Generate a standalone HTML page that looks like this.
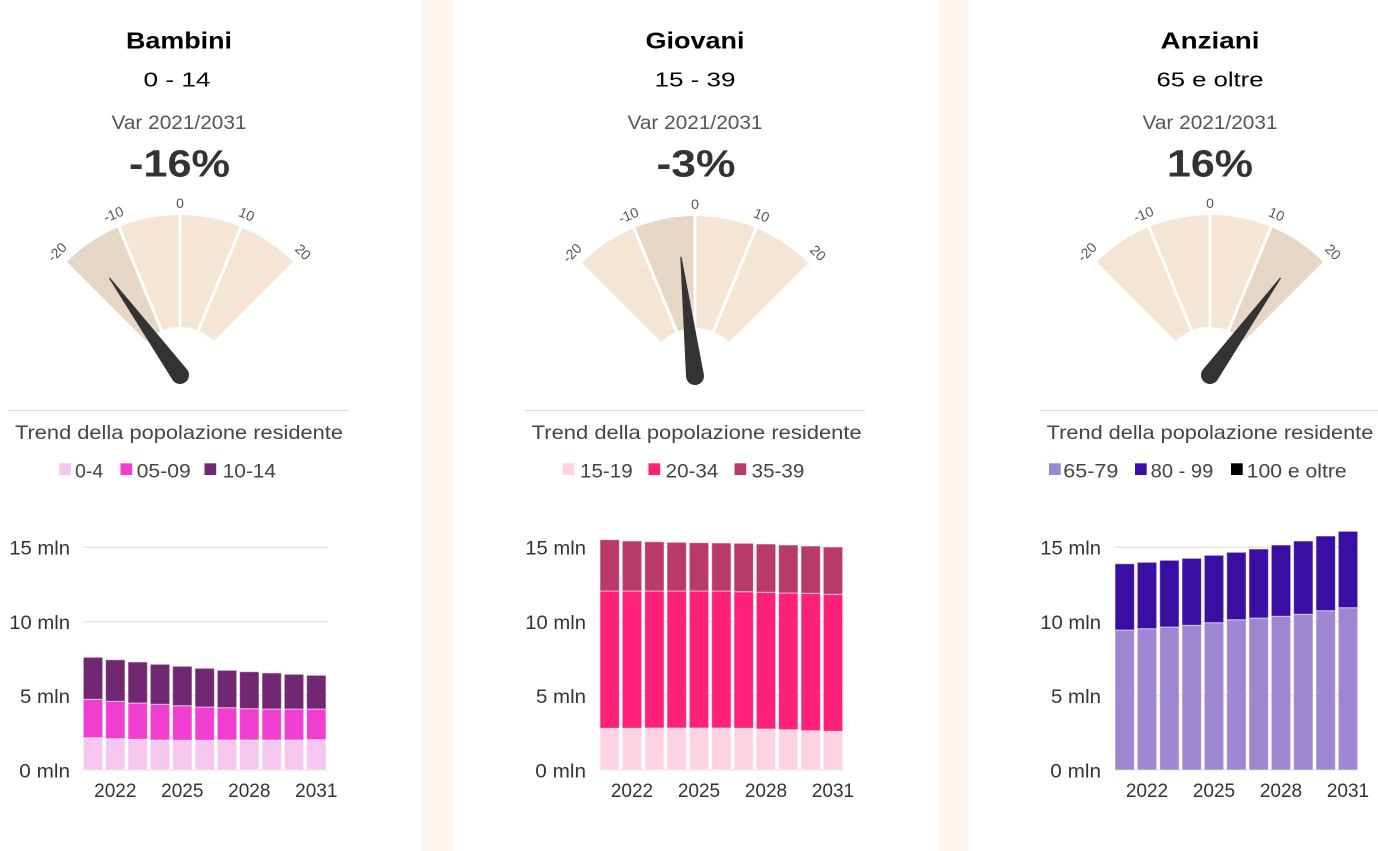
<!DOCTYPE html>
<html><head><meta charset="utf-8"><style>
html,body{margin:0;padding:0;background:#fff;}
svg{display:block;font-family:"Liberation Sans",Arial,sans-serif;}
</style></head><body>
<svg width="1378" height="851" viewBox="0 0 1378 851" xmlns="http://www.w3.org/2000/svg">
<rect x="0" y="0" width="1378" height="851" fill="#fff"/>
<rect x="422" y="0" width="31" height="851" fill="#fff6ef"/>
<rect x="937" y="0" width="31" height="851" fill="#fff6ef"/>

<!-- headers -->
<g text-anchor="middle">
<text x="179" y="48.3" font-size="23.5" font-weight="bold" fill="#000" textLength="106" lengthAdjust="spacingAndGlyphs">Bambini</text>
<text x="177" y="86.7" font-size="20.5" fill="#000" textLength="67" lengthAdjust="spacingAndGlyphs">0 - 14</text>
<text x="179" y="129" font-size="19" fill="#555" textLength="135" lengthAdjust="spacingAndGlyphs">Var 2021/2031</text>
<text x="179.5" y="176.7" font-size="38" font-weight="bold" fill="#333" textLength="101" lengthAdjust="spacingAndGlyphs">-16%</text>

<text x="695" y="48.3" font-size="23.5" font-weight="bold" fill="#000" textLength="99" lengthAdjust="spacingAndGlyphs">Giovani</text>
<text x="695" y="86.7" font-size="20.5" fill="#000" textLength="81" lengthAdjust="spacingAndGlyphs">15 - 39</text>
<text x="695" y="129" font-size="19" fill="#555" textLength="135" lengthAdjust="spacingAndGlyphs">Var 2021/2031</text>
<text x="696" y="176.7" font-size="38" font-weight="bold" fill="#333" textLength="79" lengthAdjust="spacingAndGlyphs">-3%</text>

<text x="1210" y="48.3" font-size="23.5" font-weight="bold" fill="#000" textLength="99" lengthAdjust="spacingAndGlyphs">Anziani</text>
<text x="1210" y="86.7" font-size="20.5" fill="#000" textLength="107" lengthAdjust="spacingAndGlyphs">65 e oltre</text>
<text x="1210" y="129" font-size="19" fill="#555" textLength="135" lengthAdjust="spacingAndGlyphs">Var 2021/2031</text>
<text x="1210" y="176.7" font-size="38" font-weight="bold" fill="#333" textLength="86" lengthAdjust="spacingAndGlyphs">16%</text>
</g>

<!-- gauges -->
<defs>
<path id="s1" d="M -113.14 -113.14 A 160 160 0 0 1 -61.23 -147.82 L -18.37 -44.35 A 48 48 0 0 0 -33.94 -33.94 Z"/>
<path id="s2" d="M -61.23 -147.82 A 160 160 0 0 1 0 -160 L 0 -48 A 48 48 0 0 0 -18.37 -44.35 Z"/>
<path id="s3" d="M 0 -160 A 160 160 0 0 1 61.23 -147.82 L 18.37 -44.35 A 48 48 0 0 0 0 -48 Z"/>
<path id="s4" d="M 61.23 -147.82 A 160 160 0 0 1 113.14 -113.14 L 33.94 -33.94 A 48 48 0 0 0 18.37 -44.35 Z"/>
<g id="seps" stroke="#fff" stroke-width="3">
<line x1="-16.5" y1="-40" x2="-64" y2="-155"/>
<line x1="0" y1="-42" x2="0" y2="-166"/>
<line x1="16.5" y1="-40" x2="64" y2="-155"/>
</g>
<g id="ticks" font-size="14" fill="#555" text-anchor="middle">
<text transform="rotate(-45)" x="0" y="-174" dy="0.35em">-20</text>
<text transform="rotate(-22.5)" x="0" y="-174" dy="0.35em">-10</text>
<text transform="rotate(0)" x="0" y="-172" dy="0.35em">0</text>
<text transform="rotate(22.5)" x="0" y="-174" dy="0.35em">10</text>
<text transform="rotate(45)" x="0" y="-174" dy="0.35em">20</text>
</g>
<path id="needle" d="M -9 0 L -0.6 -120 L 0.6 -120 L 9 0 A 9 9 0 0 1 -9 0 Z" fill="#333"/>
</defs>

<g transform="translate(180,375)">
<use href="#s1" fill="#e5d6c6"/><use href="#s2" fill="#f5e5d5"/><use href="#s3" fill="#f5e5d5"/><use href="#s4" fill="#f5e5d5"/>
<use href="#seps"/><use href="#ticks"/>
<g transform="rotate(-36)"><use href="#needle"/></g>
</g>
<g transform="translate(695,376)">
<use href="#s1" fill="#f5e5d5"/><use href="#s2" fill="#e5d6c6"/><use href="#s3" fill="#f5e5d5"/><use href="#s4" fill="#f5e5d5"/>
<use href="#seps"/><use href="#ticks"/>
<g transform="rotate(-6.75)"><use href="#needle"/></g>
</g>
<g transform="translate(1210,375)">
<use href="#s1" fill="#f5e5d5"/><use href="#s2" fill="#f5e5d5"/><use href="#s3" fill="#f5e5d5"/><use href="#s4" fill="#e5d6c6"/>
<use href="#seps"/><use href="#ticks"/>
<g transform="rotate(36)"><use href="#needle"/></g>
</g>

<!-- rules -->
<g stroke="#dcdcdc" stroke-width="1">
<line x1="8" y1="410.5" x2="349" y2="410.5"/>
<line x1="525" y1="410.5" x2="865" y2="410.5"/>
<line x1="1040" y1="410.5" x2="1378" y2="410.5"/>
</g>

<!-- trend titles -->
<g font-size="19.5" fill="#444">
<text x="15" y="439" textLength="328" lengthAdjust="spacingAndGlyphs">Trend della popolazione residente</text>
<text x="531.7" y="439" textLength="330" lengthAdjust="spacingAndGlyphs">Trend della popolazione residente</text>
<text x="1046.7" y="439" textLength="326.6" lengthAdjust="spacingAndGlyphs">Trend della popolazione residente</text>
</g>

<!-- legends -->
<g font-size="19.5" fill="#444">
<rect x="59.3" y="463.3" width="11.7" height="11.7" fill="#f5c6f0"/>
<text x="75" y="477.3" textLength="28.3" lengthAdjust="spacingAndGlyphs">0-4</text>
<rect x="120.5" y="463.3" width="11.7" height="11.7" fill="#f03ed0"/>
<text x="136.7" y="477.3" textLength="54" lengthAdjust="spacingAndGlyphs">05-09</text>
<rect x="204.5" y="463.3" width="11.7" height="11.7" fill="#722772"/>
<text x="222.7" y="477.3" textLength="53.3" lengthAdjust="spacingAndGlyphs">10-14</text>

<rect x="562.7" y="463.3" width="11.7" height="11.7" fill="#fdd3e3"/>
<text x="580" y="477.3" textLength="52.7" lengthAdjust="spacingAndGlyphs">15-19</text>
<rect x="648.5" y="463.3" width="11.7" height="11.7" fill="#ff2178"/>
<text x="665.7" y="477.3" textLength="52.6" lengthAdjust="spacingAndGlyphs">20-34</text>
<rect x="734.5" y="463.3" width="11.7" height="11.7" fill="#b93a6a"/>
<text x="751.7" y="477.3" textLength="52.6" lengthAdjust="spacingAndGlyphs">35-39</text>

<rect x="1049" y="463.3" width="11.7" height="11.7" fill="#9c87d0"/>
<text x="1063.3" y="477.3" textLength="55" lengthAdjust="spacingAndGlyphs">65-79</text>
<rect x="1135" y="463.3" width="11.7" height="11.7" fill="#3a0da3"/>
<text x="1150.7" y="477.3" textLength="62.6" lengthAdjust="spacingAndGlyphs">80 - 99</text>
<rect x="1231" y="463.3" width="11.7" height="11.7" fill="#000"/>
<text x="1246.7" y="477.3" textLength="100" lengthAdjust="spacingAndGlyphs">100 e oltre</text>
</g>

<!-- gridlines -->
<g stroke="#e6e6e6" stroke-width="1.5">
<line x1="82.7" y1="547.3" x2="328.3" y2="547.3"/><line x1="82.7" y1="621.7" x2="328.3" y2="621.7"/><line x1="82.7" y1="695.7" x2="328.3" y2="695.7"/><line x1="82.7" y1="770" x2="328.3" y2="770"/>
<line x1="599.3" y1="547.3" x2="843.3" y2="547.3"/><line x1="599.3" y1="621.7" x2="843.3" y2="621.7"/><line x1="599.3" y1="695.7" x2="843.3" y2="695.7"/><line x1="599.3" y1="770" x2="843.3" y2="770"/>
<line x1="1114.3" y1="547.3" x2="1358.3" y2="547.3"/><line x1="1114.3" y1="621.7" x2="1358.3" y2="621.7"/><line x1="1114.3" y1="695.7" x2="1358.3" y2="695.7"/><line x1="1114.3" y1="770" x2="1358.3" y2="770"/>
</g>

<!-- y axis labels -->
<g font-size="19" fill="#333" text-anchor="end">
<text x="70" y="554.6" textLength="60.7" lengthAdjust="spacingAndGlyphs">15 mln</text>
<text x="70" y="629" textLength="60.7" lengthAdjust="spacingAndGlyphs">10 mln</text>
<text x="70" y="703" textLength="50" lengthAdjust="spacingAndGlyphs">5 mln</text>
<text x="70" y="777.3" textLength="50.7" lengthAdjust="spacingAndGlyphs">0 mln</text>
<text x="586" y="554.6" textLength="60.7" lengthAdjust="spacingAndGlyphs">15 mln</text>
<text x="586" y="629" textLength="60.7" lengthAdjust="spacingAndGlyphs">10 mln</text>
<text x="586" y="703" textLength="50" lengthAdjust="spacingAndGlyphs">5 mln</text>
<text x="586" y="777.3" textLength="50.7" lengthAdjust="spacingAndGlyphs">0 mln</text>
<text x="1101" y="554.6" textLength="60.7" lengthAdjust="spacingAndGlyphs">15 mln</text>
<text x="1101" y="629" textLength="60.7" lengthAdjust="spacingAndGlyphs">10 mln</text>
<text x="1101" y="703" textLength="50" lengthAdjust="spacingAndGlyphs">5 mln</text>
<text x="1101" y="777.3" textLength="50.7" lengthAdjust="spacingAndGlyphs">0 mln</text>
</g>

<!-- x axis labels -->
<g font-size="19" fill="#333" text-anchor="middle">
<text x="115.3" y="797">2022</text><text x="182.3" y="797">2025</text><text x="249.3" y="797">2028</text><text x="316.3" y="797">2031</text>
<text x="632" y="797">2022</text><text x="699" y="797">2025</text><text x="766" y="797">2028</text><text x="833" y="797">2031</text>
<text x="1147" y="797">2022</text><text x="1214" y="797">2025</text><text x="1281" y="797">2028</text><text x="1348" y="797">2031</text>
</g>

<!-- bars panel 1 -->
<g stroke="#fff" stroke-opacity="0.55" stroke-width="1">
<g fill="#f5c6f0">
<rect x="83.3" y="737.7" width="19.4" height="32.3"/>
<rect x="105.6" y="738.7" width="19.4" height="31.3"/>
<rect x="128.0" y="739.3" width="19.4" height="30.7"/>
<rect x="150.3" y="740" width="19.4" height="30"/>
<rect x="172.6" y="740.3" width="19.4" height="29.7"/>
<rect x="195.0" y="740.3" width="19.4" height="29.7"/>
<rect x="217.3" y="740" width="19.4" height="30"/>
<rect x="239.6" y="740" width="19.4" height="30"/>
<rect x="262.0" y="740" width="19.4" height="30"/>
<rect x="284.3" y="740" width="19.4" height="30"/>
<rect x="306.6" y="739.7" width="19.4" height="30.3"/>
</g>
<g fill="#f03ed0">
<rect x="83.3" y="699.3" width="19.4" height="38.4"/>
<rect x="105.6" y="701.3" width="19.4" height="37.4"/>
<rect x="128.0" y="703" width="19.4" height="36.3"/>
<rect x="150.3" y="704.3" width="19.4" height="35.7"/>
<rect x="172.6" y="705.7" width="19.4" height="34.6"/>
<rect x="195.0" y="707" width="19.4" height="33.3"/>
<rect x="217.3" y="707.7" width="19.4" height="32.3"/>
<rect x="239.6" y="708.7" width="19.4" height="31.3"/>
<rect x="262.0" y="709" width="19.4" height="31"/>
<rect x="284.3" y="709" width="19.4" height="31"/>
<rect x="306.6" y="709" width="19.4" height="30.7"/>
</g>
<g fill="#722772">
<rect x="83.3" y="657.3" width="19.4" height="42"/>
<rect x="105.6" y="659.7" width="19.4" height="41.6"/>
<rect x="128.0" y="662" width="19.4" height="41"/>
<rect x="150.3" y="664.3" width="19.4" height="40"/>
<rect x="172.6" y="666.3" width="19.4" height="39.4"/>
<rect x="195.0" y="668.3" width="19.4" height="38.7"/>
<rect x="217.3" y="670.3" width="19.4" height="37.4"/>
<rect x="239.6" y="671.7" width="19.4" height="37"/>
<rect x="262.0" y="673" width="19.4" height="36"/>
<rect x="284.3" y="674.3" width="19.4" height="34.7"/>
<rect x="306.6" y="675.3" width="19.4" height="33.7"/>
</g>

<!-- bars panel 2 -->
<g fill="#fdd3e3">
<rect x="600" y="728.3" width="19.4" height="41.7"/>
<rect x="622.3" y="728.3" width="19.4" height="41.7"/>
<rect x="644.7" y="728" width="19.4" height="42"/>
<rect x="667.0" y="728" width="19.4" height="42"/>
<rect x="689.3" y="728" width="19.4" height="42"/>
<rect x="711.7" y="728" width="19.4" height="42"/>
<rect x="734.0" y="728.3" width="19.4" height="41.7"/>
<rect x="756.3" y="729" width="19.4" height="41"/>
<rect x="778.6" y="729.7" width="19.4" height="40.3"/>
<rect x="801.0" y="730.7" width="19.4" height="39.3"/>
<rect x="823.3" y="731.3" width="19.4" height="38.7"/>
</g>
<g fill="#ff2178">
<rect x="600" y="591" width="19.4" height="137.3"/>
<rect x="622.3" y="591" width="19.4" height="137.3"/>
<rect x="644.7" y="591" width="19.4" height="137"/>
<rect x="667.0" y="591" width="19.4" height="137"/>
<rect x="689.3" y="591" width="19.4" height="137"/>
<rect x="711.7" y="591" width="19.4" height="137"/>
<rect x="734.0" y="591.7" width="19.4" height="136.6"/>
<rect x="756.3" y="592.3" width="19.4" height="136.7"/>
<rect x="778.6" y="593" width="19.4" height="136.7"/>
<rect x="801.0" y="593.3" width="19.4" height="137.4"/>
<rect x="823.3" y="594.3" width="19.4" height="137"/>
</g>
<g fill="#b93a6a">
<rect x="600" y="539.7" width="19.4" height="51.3"/>
<rect x="622.3" y="541" width="19.4" height="50"/>
<rect x="644.7" y="541.7" width="19.4" height="49.3"/>
<rect x="667.0" y="542.3" width="19.4" height="48.7"/>
<rect x="689.3" y="542.7" width="19.4" height="48.3"/>
<rect x="711.7" y="543" width="19.4" height="48"/>
<rect x="734.0" y="543.3" width="19.4" height="48.4"/>
<rect x="756.3" y="544" width="19.4" height="48.3"/>
<rect x="778.6" y="545" width="19.4" height="48"/>
<rect x="801.0" y="546" width="19.4" height="47.3"/>
<rect x="823.3" y="547" width="19.4" height="47.3"/>
</g>

<!-- bars panel 3 -->
<g fill="#9c87d0">
<rect x="1115" y="630" width="19.4" height="140"/>
<rect x="1137.3" y="628.7" width="19.4" height="141.3"/>
<rect x="1159.7" y="627" width="19.4" height="143"/>
<rect x="1182.0" y="625.3" width="19.4" height="144.7"/>
<rect x="1204.3" y="622.7" width="19.4" height="147.3"/>
<rect x="1226.7" y="619.7" width="19.4" height="150.3"/>
<rect x="1249.0" y="618" width="19.4" height="152"/>
<rect x="1271.3" y="616.3" width="19.4" height="153.7"/>
<rect x="1293.6" y="614.3" width="19.4" height="155.7"/>
<rect x="1316.0" y="610.7" width="19.4" height="159.3"/>
<rect x="1338.3" y="607.7" width="19.4" height="162.3"/>
</g>
<g fill="#3a0da3">
<rect x="1115" y="563.7" width="19.4" height="66.3"/>
<rect x="1137.3" y="562.3" width="19.4" height="66.4"/>
<rect x="1159.7" y="560.3" width="19.4" height="66.7"/>
<rect x="1182.0" y="558.3" width="19.4" height="67"/>
<rect x="1204.3" y="555.3" width="19.4" height="67.4"/>
<rect x="1226.7" y="552.3" width="19.4" height="67.4"/>
<rect x="1249.0" y="549" width="19.4" height="69"/>
<rect x="1271.3" y="545" width="19.4" height="71.3"/>
<rect x="1293.6" y="541" width="19.4" height="73.3"/>
<rect x="1316.0" y="536" width="19.4" height="74.7"/>
<rect x="1338.3" y="531.3" width="19.4" height="76.4"/>
</g>
</g>
</svg>
</body></html>
